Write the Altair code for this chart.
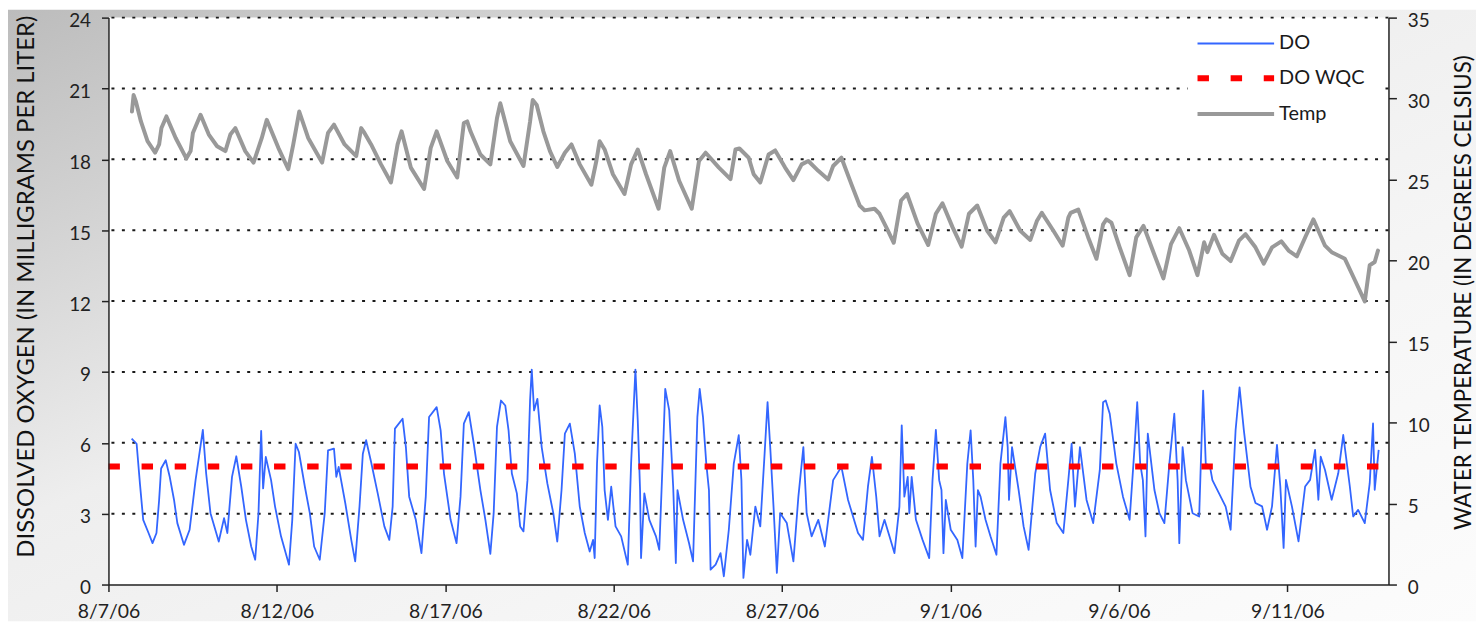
import altair as alt
import pandas as pd

# ---------------- data ----------------
# days since 2006-08-07 00:00, dissolved oxygen (mg/L)
do_day = [0.688, 0.836, 0.934, 1.032, 1.19, 1.308, 1.426, 1.504, 1.563, 1.701, 1.819, 1.947, 2.045, 2.242, 2.409,
          2.586, 2.802, 2.901, 3.029, 3.274, 3.432, 3.53, 3.668, 3.796, 3.943, 4.081, 4.238, 4.356, 4.454, 4.533,
          4.592, 4.671, 4.828, 4.946, 5.123, 5.359, 5.457, 5.556, 5.654, 5.831, 5.978, 6.106, 6.273, 6.421, 6.519,
          6.696, 6.765, 6.834, 7.031, 7.208, 7.325, 7.453, 7.552, 7.65, 7.797, 7.994, 8.191, 8.338, 8.437, 8.505,
          8.732, 8.83, 8.928, 9.125, 9.292, 9.42, 9.518, 9.744, 9.862, 9.961, 10.157, 10.334, 10.452, 10.551, 10.698,
          10.846, 11.042, 11.19, 11.337, 11.436, 11.534, 11.652, 11.78, 11.878, 11.976, 12.124, 12.222, 12.321, 12.439,
          12.517, 12.566, 12.635, 12.734, 12.861, 13.029, 13.206, 13.324, 13.451, 13.55, 13.697, 13.845, 13.992, 14.14,
          14.287, 14.386, 14.435, 14.504, 14.582, 14.661, 14.73, 14.828, 14.926, 15.054, 15.221, 15.418, 15.516, 15.644,
          15.713, 15.782, 15.811, 15.909, 16.057, 16.254, 16.352, 16.45, 16.529, 16.647, 16.765, 16.844, 16.893, 17.06,
          17.237, 17.355, 17.483, 17.552, 17.65, 17.748, 17.827, 17.876, 18.024, 18.171, 18.269, 18.417, 18.564, 18.712,
          18.791, 18.85, 18.958, 19.056, 19.204, 19.351, 19.479, 19.567, 19.646, 19.744, 19.843, 19.941, 20.138, 20.334,
          20.482, 20.63, 20.728, 20.875, 21.072, 21.268, 21.514, 21.76, 21.957, 22.252, 22.399, 22.547, 22.665, 22.793,
          22.891, 23.038, 23.186, 23.333, 23.481, 23.55, 23.628, 23.727, 23.776, 23.845, 23.972, 24.169, 24.366, 24.464,
          24.563, 24.661, 24.73, 24.789, 24.858, 25.005, 25.202, 25.349, 25.497, 25.595, 25.674, 25.743, 25.811, 25.89,
          26.038, 26.185, 26.362, 26.48, 26.628, 26.696, 26.735, 26.824, 27.021, 27.168, 27.316, 27.513, 27.66, 27.807,
          27.955, 28.152, 28.348, 28.496, 28.594, 28.693, 28.84, 29.037, 29.233, 29.43, 29.528, 29.607, 29.725, 29.921,
          30.118, 30.315, 30.462, 30.541, 30.629, 30.708, 30.787, 30.855, 31.052, 31.2, 31.347, 31.495, 31.642, 31.74,
          31.79, 31.888, 31.986, 32.183, 32.38, 32.498, 32.576, 32.7, 32.773, 32.97, 33.166, 33.314, 33.461, 33.579,
          33.707, 33.904, 34.051, 34.248, 34.395, 34.543, 34.69, 34.789, 34.887, 34.956, 35.133, 35.329, 35.526, 35.673,
          35.821, 35.919, 35.988, 36.116, 36.313, 36.509, 36.657, 36.853, 36.952, 37.099, 37.296, 37.443, 37.542, 37.591,
          37.709]
do_val = [6.18, 5.96, 4.28, 2.74, 2.18, 1.75, 2.18, 3.58, 4.91, 5.26, 4.56, 3.58, 2.60, 1.68, 2.32,
          4.42, 6.55, 4.70, 3.02, 1.82, 2.81, 2.18, 4.56, 5.43, 4.14, 2.74, 1.61, 1.05, 3.02, 6.50,
          4.07, 5.40, 4.42, 3.30, 2.04, 0.84, 2.74, 5.96, 5.61, 4.14, 3.02, 1.61, 1.05, 3.02, 5.68,
          5.75, 4.56, 4.98, 3.44, 1.89, 0.98, 3.30, 5.54, 6.11, 5.19, 3.86, 2.46, 1.89, 3.30, 6.60,
          7.02, 5.82, 3.72, 2.74, 1.33, 3.72, 7.09, 7.51, 6.53, 4.70, 2.74, 1.75, 3.72, 6.81, 7.30,
          5.96, 4.00, 2.74, 1.30, 3.02, 6.67, 7.79, 7.58, 6.53, 4.70, 3.86, 2.46, 2.25, 4.42,
          7.79, 9.10, 7.37, 7.86, 5.82, 4.28, 3.02, 1.82, 4.00, 6.39, 6.81, 5.54, 3.30, 2.18,
          1.40, 1.89, 1.12, 5.12, 7.58, 6.67, 4.00, 2.74, 4.14, 2.46, 2.04, 0.84, 5.12, 9.10,
          6.95, 4.00, 1.12, 3.86, 2.74, 2.04, 1.47, 5.12, 8.28, 7.37, 4.14, 0.91, 4.00, 2.74,
          1.75, 0.98, 7.09, 8.28, 7.09, 5.12, 4.00, 0.63, 0.84, 1.33, 0.35, 2.32, 5.12, 6.32,
          4.42, 0.28, 1.89, 1.26, 3.30, 2.46, 5.54, 7.72, 5.82, 3.30, 0.49, 3.02, 2.60, 0.98,
          3.72, 5.82, 3.02, 2.04, 2.74, 1.61, 4.42, 4.98, 3.58, 2.18, 1.89, 4.14, 5.40, 3.72,
          2.04, 2.74, 2.04, 1.33, 3.30, 6.74, 3.72, 4.56, 3.02, 4.56, 2.74, 1.89, 1.12, 4.42,
          6.55, 4.42, 4.00, 1.33, 3.58, 2.32, 1.89, 1.12, 5.12, 6.53, 4.42, 1.61, 4.00, 3.72,
          2.74, 2.04, 1.26, 5.12, 7.09, 5.82, 3.58, 5.82, 4.00, 2.46, 1.47, 4.70, 5.82, 6.39,
          4.00, 2.60, 2.18, 4.42, 5.96, 3.30, 5.82, 3.58, 2.60, 4.84, 7.72, 7.79, 7.23, 5.12,
          3.72, 2.74, 5.82, 7.72, 5.12, 4.42, 2.04, 6.39, 4.00, 3.02, 2.60, 5.12, 7.23, 4.42,
          1.75, 5.82, 4.42, 3.02, 2.88, 8.21, 5.12, 5.00, 4.42, 3.86, 3.30, 2.32, 6.53, 8.35,
          6.53, 4.14, 3.45, 3.31, 2.32, 3.31, 5.91, 4.15, 1.55, 4.43, 3.31, 1.83, 4.15, 4.43,
          5.70, 3.59, 5.41, 4.85, 3.59, 4.71, 6.33, 4.15, 2.88, 3.16, 2.60, 4.29, 6.82, 4.01,
          5.70]

# days since 2006-08-07 00:00, water temperature (deg C)
temp_day = [0.698, 0.747, 0.816, 0.964, 1.16, 1.386, 1.504, 1.573, 1.721, 1.996, 2.311, 2.439, 2.507, 2.734, 2.979,
            3.225, 3.471, 3.619, 3.766, 4.061, 4.307, 4.552, 4.7, 5.044, 5.339, 5.487, 5.664, 5.929, 6.342, 6.519,
            6.696, 7.011, 7.355, 7.503, 7.601, 7.797, 8.092, 8.387, 8.584, 8.702, 8.977, 9.371, 9.567, 9.744, 10.059,
            10.354, 10.551, 10.649, 10.747, 11.042, 11.337, 11.534, 11.632, 11.927, 12.321, 12.517, 12.596, 12.714,
            12.911, 13.107, 13.324, 13.55, 13.746, 13.992, 14.336, 14.484, 14.582, 14.73, 14.976, 15.32, 15.516, 15.713,
            15.959, 16.332, 16.5, 16.676, 16.942, 17.316, 17.532, 17.729, 18.122, 18.466, 18.614, 18.732, 19.007,
            19.154, 19.351, 19.597, 19.794, 20.088, 20.334, 20.58, 20.777, 21.072, 21.367, 21.514, 21.76, 22.055,
            22.301, 22.448, 22.743, 22.891, 23.137, 23.314, 23.53, 23.707, 24.022, 24.336, 24.563, 24.759, 25.054,
            25.329, 25.546, 25.792, 26.087, 26.333, 26.578, 26.755, 27.07, 27.365, 27.561, 27.709, 28.053, 28.328,
            28.496, 28.564, 28.791, 29.086, 29.331, 29.528, 29.626, 29.774, 30.02, 30.315, 30.512, 30.728, 31.003,
            31.318, 31.544, 31.79, 32.085, 32.33, 32.478, 32.527, 32.625, 32.822, 33.068, 33.314, 33.56, 33.756,
            34.051, 34.297, 34.543, 34.818, 35.034, 35.28, 35.526, 35.772, 36.116, 36.313, 36.706, 37.001, 37.296,
            37.443, 37.591, 37.689]
temp_val = [29.2, 30.22, 29.81, 28.59, 27.37, 26.66, 27.17, 28.18, 28.9, 27.57, 26.31, 26.76, 27.88, 29.0, 27.78,
            27.06, 26.76, 27.78, 28.18, 26.76, 26.05, 27.57, 28.69, 26.96, 25.64, 27.17, 29.2, 27.57, 26.05, 27.88,
            28.39, 27.17, 26.45, 28.18, 27.88, 27.17, 25.94, 24.82, 27.17, 27.98, 25.74, 24.42, 26.96, 27.98, 26.15,
            25.13, 28.49, 28.59, 27.98, 26.55, 25.94, 28.79, 29.71, 27.37, 25.84, 28.59, 29.91, 29.61,
            27.98, 26.76, 25.78, 26.66, 27.17, 25.94, 24.68, 26.15, 27.37, 26.86, 25.33, 24.11, 25.94, 26.86,
            25.33, 23.2, 25.74, 26.76, 24.93, 23.2, 26.15, 26.66, 25.74, 25.03, 26.86, 26.92, 26.35,
            25.33, 24.82, 26.55, 26.8, 25.74, 24.97, 25.94, 26.15, 25.54, 25.01, 25.84, 26.35, 24.72,
            23.4, 23.1, 23.2, 22.89, 21.87, 21.1, 23.71, 24.11, 22.28, 20.96, 22.89, 23.54, 22.08,
            20.86, 22.89, 23.4, 21.84, 21.13, 22.65, 23.05, 21.84, 21.27, 22.44, 22.95, 21.84, 20.92,
            22.65, 22.95, 23.15, 21.43, 20.11, 22.24, 22.54, 22.34, 20.82, 19.1, 21.43, 22.14, 20.62,
            18.9, 21.02, 22.0, 20.62, 19.1, 20.62, 21.13, 20.52, 21.59, 20.42, 19.97, 21.23, 21.63,
            20.82, 19.81, 20.82, 21.19, 20.62, 20.26, 21.43, 22.54, 20.92, 20.52, 20.11, 18.8, 17.48,
            19.71, 19.91, 20.62]

# DO water-quality criterion (mg/L) over the whole period
wqc_day = [0, 38]
wqc_val = [5, 5]

do_ticks = [0, 3, 6, 9, 12, 15, 18, 21, 24]
temp_ticks = [0, 5, 10, 15, 20, 25, 30, 35]
x_tick_dates = [(8, 7), (8, 12), (8, 17), (8, 22), (8, 27), (9, 1), (9, 6), (9, 11)]
x_domain_dates = [(8, 7), (9, 14)]

legend_names = ["DO", "DO WQC", "Temp"]
legend_colors = ["#3366ff", "#ff0000", "#999999"]
legend_widths = [1.8, 6, 4]

# ---------------- build ----------------
BASE = pd.Timestamp("2006-08-07")


def frame(days, vals):
    t = (BASE + pd.to_timedelta(days, unit="D")).round("min")
    return pd.DataFrame({"t": t, "v": vals})


do_df = frame(do_day, do_val)
temp_df = frame(temp_day, temp_val)
wqc_df = frame(wqc_day, wqc_val)
grid_df = pd.DataFrame({"g": do_ticks[1:]})
one = pd.DataFrame({"k": [0]})

W, H = 1287, 570
PAD_R = 88
PAD_B = 37
FONT = "Lato"

x_scale = alt.Scale(domain=[alt.DateTime(year=2006, month=m, date=d) for m, d in x_domain_dates], nice=False)
do_scale = alt.Scale(domain=[0, 24], nice=False, zero=False)
temp_scale = alt.Scale(domain=[0, 35], nice=False, zero=False)

x_axis = alt.Axis(values=[alt.DateTime(year=2006, month=m, date=d) for m, d in x_tick_dates],
                  format="%-m/%-d/%y", title=None, grid=False, labelFlush=False, zindex=2,
                  labelFontSize=19.5, labelFont=FONT, labelColor="#222", labelPadding=11,
                  tickSize=7, tickColor="#222", tickWidth=1.5, domainColor="#222", domainWidth=1.5)
left_axis = alt.Axis(values=do_ticks, title="DISSOLVED OXYGEN (IN MILLIGRAMS PER LITER)", grid=False, zindex=2,
                     labelFontSize=19, labelFont=FONT, labelColor="#222", labelPadding=11, labelOffset=3,
                     tickSize=7, tickColor="#222", tickWidth=1.5, domainColor="#222", domainWidth=1.5,
                     titleFont=FONT, titleFontSize=24, titleFontWeight="normal", titleColor="#111",
                     titleAngle=270, titleX=-82, titleY=270, titleAlign="center", titleBaseline="middle")
right_axis = alt.Axis(values=temp_ticks, orient="right", title="WATER TEMPERATURE (IN DEGREES CELSIUS)", grid=False,
                      zindex=2,
                      labelFontSize=19, labelFont=FONT, labelColor="#222", labelPadding=11, labelOffset=3,
                      tickSize=8, tickColor="#222", tickWidth=1.5, domainColor="#222", domainWidth=1.5,
                      titleFont=FONT, titleFontSize=22.5, titleFontWeight="normal", titleColor="#111",
                      titleAngle=270, titleX=75, titleY=276, titleAlign="center", titleBaseline="middle")

gradient = alt.Gradient(gradient="linear", x1=0, y1=0, x2=1, y2=1,
                        stops=[alt.GradientStop(offset=0, color="#bcbcbc"),
                               alt.GradientStop(offset=0.17, color="#d0d0d0"),
                               alt.GradientStop(offset=0.42, color="#eeeeee"),
                               alt.GradientStop(offset=0.7, color="#f6f6f6"),
                               alt.GradientStop(offset=1, color="#fcfcfc")])

bg = alt.Chart(one).mark_rect(fill=gradient).encode(
    x=alt.value(-101), x2=alt.value(W + PAD_R), y=alt.value(-8), y2=alt.value(H + PAD_B))
plot_bg = alt.Chart(one).mark_rect(fill="white").encode(
    x=alt.value(0), x2=alt.value(W), y=alt.value(0), y2=alt.value(H))

grid = alt.Chart(grid_df).mark_rule(color="#1a1a1a", strokeDash=[3, 7.5], strokeWidth=2).encode(
    y=alt.Y("g:Q", scale=do_scale, axis=None))

xenc = alt.X("t:T", scale=x_scale, axis=x_axis)

do_line = alt.Chart(do_df).mark_line(color=legend_colors[0], strokeWidth=legend_widths[0], strokeJoin="round").encode(
    x=xenc,
    y=alt.Y("v:Q", scale=do_scale, axis=left_axis))

wqc_line = alt.Chart(wqc_df).mark_line(color=legend_colors[1], strokeWidth=legend_widths[1],
                                       strokeDash=[11.5, 21.8], strokeCap="butt").encode(
    x=xenc,
    y=alt.Y("v:Q", scale=do_scale, axis=None))

temp_line = alt.Chart(temp_df).mark_line(color=legend_colors[2], strokeWidth=legend_widths[2],
                                         strokeJoin="round", strokeCap="round").encode(
    x=xenc,
    y=alt.Y("v:Q", scale=temp_scale, axis=right_axis))

LX = 1095
legend_box = alt.Chart(one).mark_rect(fill="white").encode(
    x=alt.value(LX - 10), x2=alt.value(LX + 187), y=alt.value(4), y2=alt.value(109))

legend_layers = [legend_box]
row_y = [26, 61, 97]
for i, name in enumerate(legend_names):
    kw = dict(color=legend_colors[i], strokeWidth=legend_widths[i])
    if name == "DO WQC":
        kw["strokeDash"] = [11.5, 21.8]
        kw["strokeCap"] = "butt"
    legend_layers.append(alt.Chart(one).mark_rule(**kw).encode(
        x=alt.value(LX), x2=alt.value(LX + 77), y=alt.value(row_y[i])))
    legend_layers.append(alt.Chart(one).mark_text(text=name, align="left", baseline="middle",
                                                  font=FONT, fontSize=20, color="#1a1a1a").encode(
        x=alt.value(LX + 82), y=alt.value(row_y[i])))

chart = alt.layer(bg, plot_bg, grid, do_line, wqc_line, temp_line, *legend_layers).resolve_scale(
    y="independent"
).properties(
    width=W, height=H,
    padding={"left": 101, "top": 8, "right": PAD_R, "bottom": PAD_B},
    autosize=alt.AutoSizeParams(type="none"),
).configure_view(stroke=None)

chart.save("out.html", embed_options={"renderer": "svg", "actions": False})
